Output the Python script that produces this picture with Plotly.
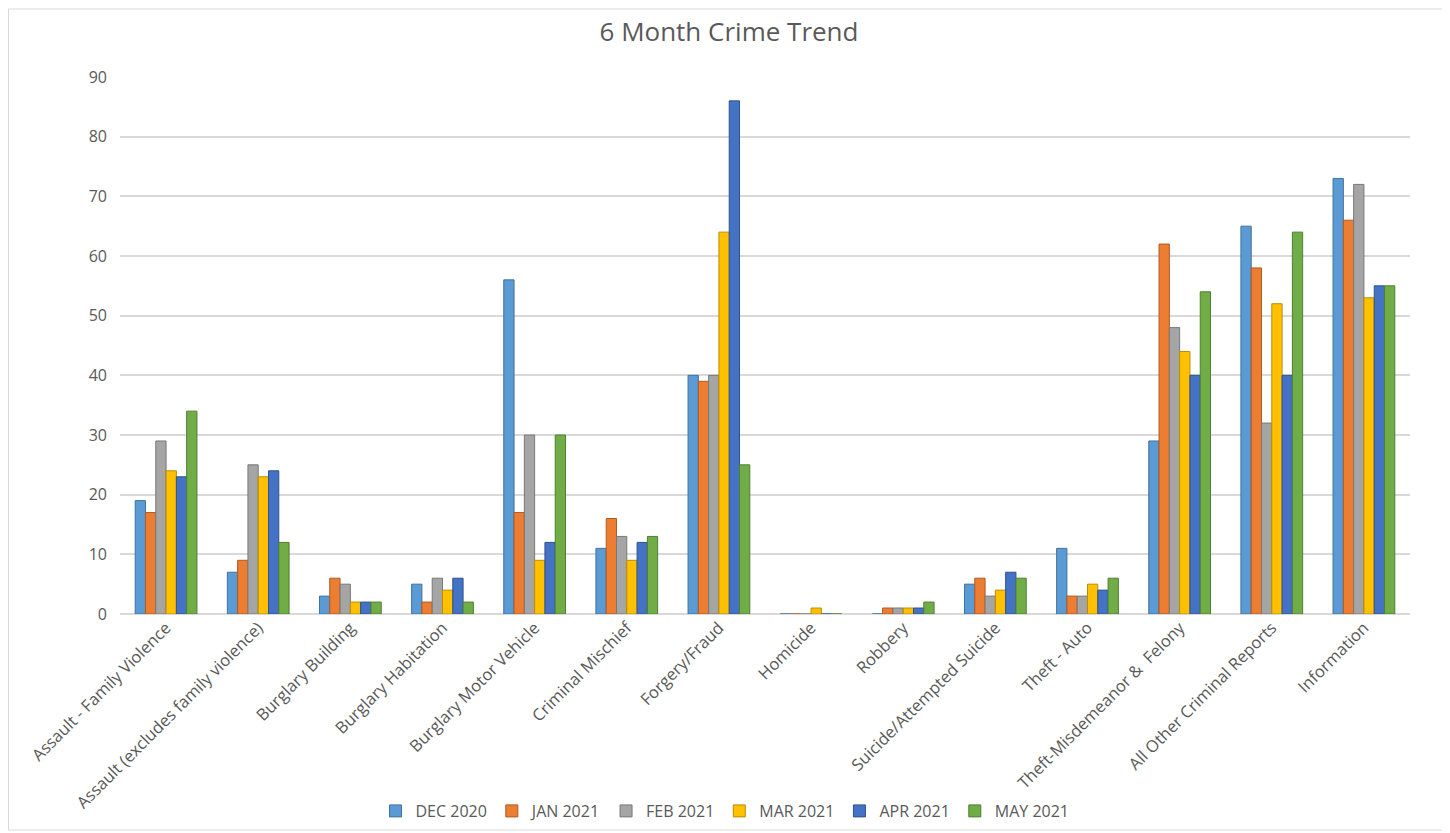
import plotly.graph_objects as go

categories = [
    "Assault - Family Violence", "Assault (excludes family violence)", "Burglary Building",
    "Burglary Habitation", "Burglary Motor Vehicle", "Criminal Mischief", "Forgery/Fraud",
    "Homicide", "Robbery", "Suicide/Attempted Suicide", "Theft - Auto",
    "Theft-Misdemeanor &  Felony", "All Other Criminal Reports", "Information",
]
dec_2020 = [19, 7, 3, 5, 56, 11, 40, 0, 0, 5, 11, 29, 65, 73]
jan_2021 = [17, 9, 6, 2, 17, 16, 39, 0, 1, 6, 3, 62, 58, 66]
feb_2021 = [29, 25, 5, 6, 30, 13, 40, 0, 1, 3, 3, 48, 32, 72]
mar_2021 = [24, 23, 2, 4, 9, 9, 64, 1, 1, 4, 5, 44, 52, 53]
apr_2021 = [23, 24, 2, 6, 12, 12, 86, 0, 1, 7, 4, 40, 40, 55]
may_2021 = [34, 12, 2, 2, 30, 13, 25, 0, 2, 6, 6, 54, 64, 55]

series_names = ["DEC 2020", "JAN 2021", "FEB 2021", "MAR 2021", "APR 2021", "MAY 2021"]
series_values = [dec_2020, jan_2021, feb_2021, mar_2021, apr_2021, may_2021]
colors = ["#5B9BD5", "#ED7D31", "#A5A5A5", "#FFC000", "#4472C4", "#70AD47"]
edge_colors = ["#41719C", "#AE5A21", "#787878", "#BC8C00", "#2F528F", "#507E32"]
y_ticks = [0, 10, 20, 30, 40, 50, 60, 70, 80, 90]

W, H = 1442, 825
L, T, PW, PH = 112, 69, 1290, 537
R = W - L - PW
B = H - T - PH

fig = go.Figure()
for name, vals, c, ec in zip(series_names, series_values, colors, edge_colors):
    fig.add_trace(go.Bar(
        name=name, x=categories, y=vals,
        marker=dict(color=c, line=dict(color=ec, width=1)),
    ))

font_family = "Open Sans, Liberation Sans, sans-serif"
fig.update_layout(
    width=W, height=H,
    paper_bgcolor="white", plot_bgcolor="white",
    barmode="group", bargap=0.33, bargroupgap=0.0,
    margin=dict(l=L, r=R, t=T, b=B, autoexpand=False),
    title=dict(text="6 Month Crime Trend", x=0.5, xanchor="center", y=1 - 24 / H, yanchor="middle",
               font=dict(family=font_family, size=26, color="#595959")),
    font=dict(family=font_family, color="#595959", size=14),
    legend=dict(orientation="h", x=0.5 - 40 / PW, xanchor="center", y=-197 / PH, yanchor="middle",
                font=dict(size=16, color="#595959"), traceorder="normal",
                itemwidth=30),
    xaxis=dict(tickangle=-45, tickfont=dict(size=16.5, color="#595959"),
               showline=False, automargin=False, ticks=""),
    yaxis=dict(range=[0, 90], tickvals=y_ticks, showgrid=True, gridcolor="#D9D9D9",
               gridwidth=1.5, zeroline=True, zerolinecolor="#D9D9D9", zerolinewidth=1.5,
               tickfont=dict(size=16, color="#595959"), ticklabelstandoff=12,
               automargin=False),
    shapes=[dict(type="rect", xref="paper", yref="paper",
                 x0=-L / PW + 0.0004, x1=(1437 - L) / PW, y0=(T + PH - (H - 3)) / PH, y1=(T + PH - 1) / PH,
                 line=dict(color="#D9D9D9", width=1), fillcolor="rgba(0,0,0,0)")],
)

fig.write_html("out.html")
